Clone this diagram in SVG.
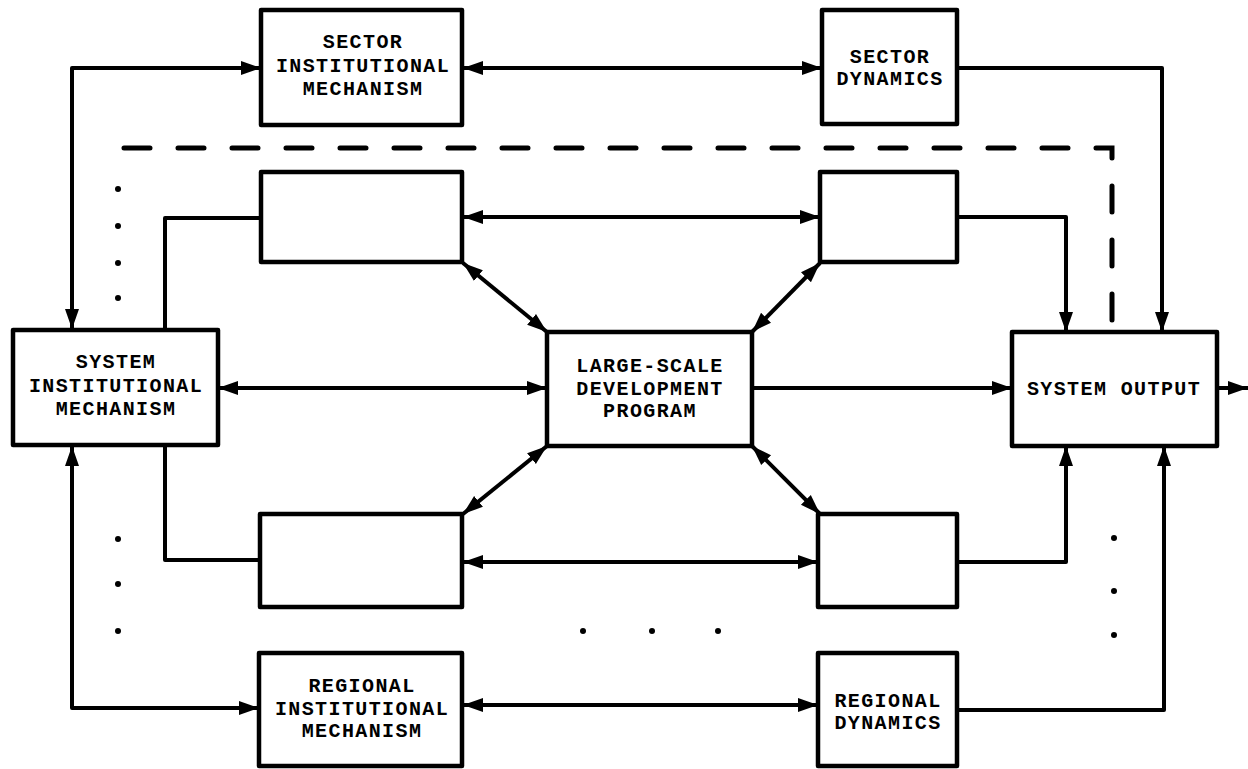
<svg xmlns="http://www.w3.org/2000/svg" width="1248" height="769" viewBox="0 0 1248 769">
  <style>
    .box { fill: #fff; stroke: #000; stroke-width: 4.5; stroke-linejoin: round; }
    .wire { fill: none; stroke: #000; stroke-width: 4; stroke-linejoin: round; }
    .both { marker-start: url(#head); marker-end: url(#head); }
    .end { marker-end: url(#head); }
    .dash { fill: none; stroke: #000; stroke-width: 5; stroke-dasharray: 26 28; stroke-linecap: round; }
    .dot { fill: #000; }
    text { font-family: "Liberation Mono", "Courier New", monospace; font-weight: bold; font-size: 20px; letter-spacing: 1.4px; text-anchor: middle; fill: #000; }
  </style>
  <defs>
    <marker id="head" markerUnits="userSpaceOnUse" markerWidth="22" markerHeight="16" refX="20" refY="8" orient="auto-start-reverse">
      <path d="M0,1 L20,8 L0,15 z" fill="#000"/>
    </marker>
  </defs>

  <rect width="1248" height="769" fill="#fff"/>

  <!-- connectors -->
  <g id="connectors">
    <path class="wire both" d="M72,329 V68 H261"/>
    <path class="wire both" d="M463,68 H822"/>
    <path class="wire end" d="M957,68 H1162 V332"/>
    <path class="dash" d="M124,148 H1112 V332"/>
    <path class="wire" d="M261,218 H165 V329"/>
    <path class="wire both" d="M463,217 H820"/>
    <path class="wire both" d="M463,263 L547,332"/>
    <path class="wire both" d="M820,263 L752,332"/>
    <path class="wire end" d="M957,217 H1066 V332"/>
    <path class="wire both" d="M218,388 H547"/>
    <path class="wire end" d="M752,388 H1012"/>
    <path class="wire end" d="M1217,388 H1248"/>
    <path class="wire both" d="M547,446 L463,514"/>
    <path class="wire both" d="M752,446 L820,514"/>
    <path class="wire both" d="M463,562 H818"/>
    <path class="wire end" d="M957,562 H1066 V446"/>
    <path class="wire" d="M165,446 V560 H259"/>
    <path class="wire both" d="M72,446 V708 H259"/>
    <path class="wire both" d="M463,705 H818"/>
    <path class="wire end" d="M957,710 H1164 V446"/>
  </g>

  <!-- ellipsis dots -->
  <g id="dots">
    <circle class="dot" cx="118" cy="189" r="3"/>
    <circle class="dot" cx="118" cy="226" r="3"/>
    <circle class="dot" cx="118" cy="263" r="3"/>
    <circle class="dot" cx="118" cy="298" r="3"/>
    <circle class="dot" cx="118" cy="539" r="3"/>
    <circle class="dot" cx="118" cy="584" r="3"/>
    <circle class="dot" cx="118" cy="631" r="3"/>
    <circle class="dot" cx="583" cy="631" r="3"/>
    <circle class="dot" cx="652" cy="631" r="3"/>
    <circle class="dot" cx="718" cy="631" r="3"/>
    <circle class="dot" cx="1114" cy="538" r="3"/>
    <circle class="dot" cx="1114" cy="591" r="3"/>
    <circle class="dot" cx="1114" cy="635" r="3"/>
  </g>

  <g id="sector-institutional">
    <rect class="box" x="261" y="10" width="201" height="115"/>
    <text x="363" y="48">SECTOR</text>
    <text x="363" y="72">INSTITUTIONAL</text>
    <text x="363" y="95">MECHANISM</text>
  </g>

  <g id="sector-dynamics">
    <rect class="box" x="822" y="10" width="135" height="114"/>
    <text x="890" y="63">SECTOR</text>
    <text x="890" y="85">DYNAMICS</text>
  </g>

  <g id="upper-left-block">
    <rect class="box" x="261" y="172" width="201" height="90"/>
  </g>

  <g id="upper-right-block">
    <rect class="box" x="820" y="172" width="137" height="90"/>
  </g>

  <g id="system-institutional">
    <rect class="box" x="13" y="330" width="205" height="115"/>
    <text x="116" y="368">SYSTEM</text>
    <text x="116" y="392">INSTITUTIONAL</text>
    <text x="116" y="415">MECHANISM</text>
  </g>

  <g id="large-scale-program">
    <rect class="box" x="547" y="332" width="205" height="114"/>
    <text x="650" y="372">LARGE-SCALE</text>
    <text x="650" y="395">DEVELOPMENT</text>
    <text x="650" y="417">PROGRAM</text>
  </g>

  <g id="system-output">
    <rect class="box" x="1012" y="332" width="205" height="114"/>
    <text x="1114" y="395">SYSTEM OUTPUT</text>
  </g>

  <g id="lower-left-block">
    <rect class="box" x="260" y="514" width="202" height="93"/>
  </g>

  <g id="lower-right-block">
    <rect class="box" x="818" y="514" width="139" height="93"/>
  </g>

  <g id="regional-institutional">
    <rect class="box" x="259" y="653" width="203" height="113"/>
    <text x="362" y="692">REGIONAL</text>
    <text x="362" y="715">INSTITUTIONAL</text>
    <text x="362" y="737">MECHANISM</text>
  </g>

  <g id="regional-dynamics">
    <rect class="box" x="818" y="653" width="139" height="113"/>
    <text x="888" y="707">REGIONAL</text>
    <text x="888" y="729">DYNAMICS</text>
  </g>
</svg>
